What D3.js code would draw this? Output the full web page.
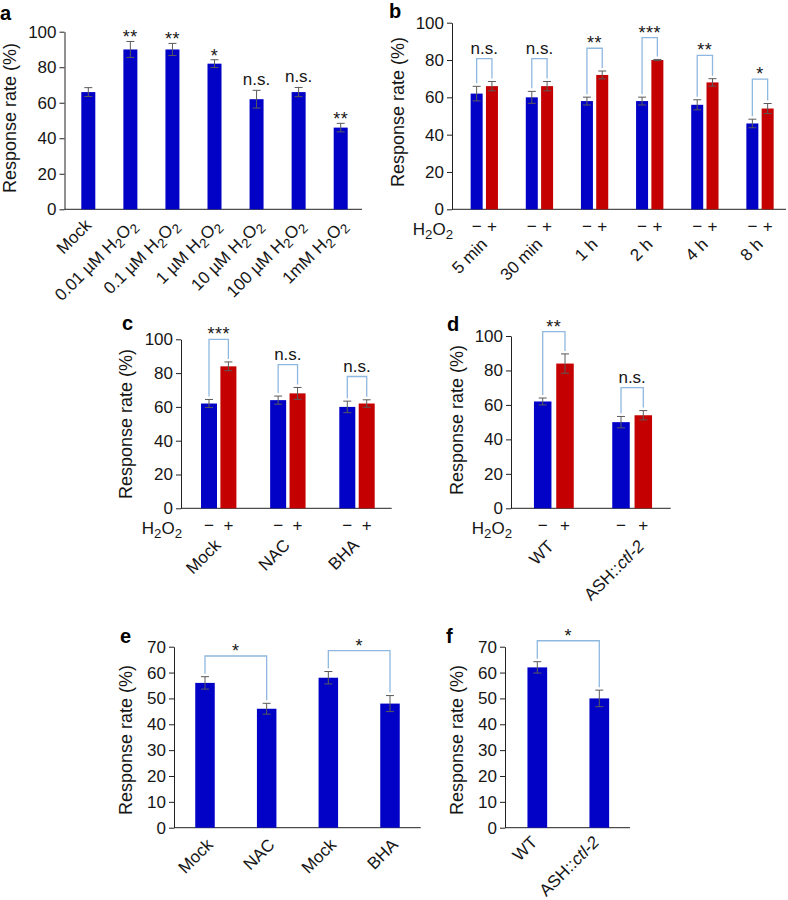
<!DOCTYPE html>
<html><head><meta charset="utf-8">
<script src="https://cdn.jsdelivr.net/npm/d3@7"></script>
<style>
body{margin:0;background:#fff;}
svg{display:block;font-family:"Liberation Sans",Arial,Helvetica,sans-serif;}
</style></head><body>
<svg id="chart" width="788" height="900"></svg>
<script>
// ---------- DATA ----------
// Panel a
const aCategories = ["Mock", "0.01 µM H2O2", "0.1 µM H2O2", "1 µM H2O2", "10 µM H2O2", "100 µM H2O2", "1mM H2O2"];
const aValues = [66, 90, 90, 82, 62, 66, 46];
const aErrors = [2.5, 4.5, 3.4, 2.2, 5, 2.6, 2.4];
const aSig = ["", "**", "**", "*", "n.s.", "n.s.", "**"];
const aTicks = [0, 20, 40, 60, 80, 100];

// Panel b
const bCategories = ["5 min", "30 min", "1 h", "2 h", "4 h", "8 h"];
const bControl = [62, 60, 58, 58, 56, 46];
const bControlErr = [3.9, 3.2, 2.1, 2.1, 2.7, 2.3];
const bTreated = [66, 66, 72, 80, 68, 54];
const bTreatedErr = [2.5, 2.5, 2.1, 0.3, 2.0, 2.7];
const bSig = ["n.s.", "n.s.", "**", "***", "**", "*"];
const bBracket = [80.7, 80.7, 86.3, 92, 82.5, 69.8];
const bTicks = [0, 20, 40, 60, 80, 100];

// Panel c
const cCategories = ["Mock", "NAC", "BHA"];
const cControl = [62, 64, 60];
const cControlErr = [2.4, 2.4, 3.4];
const cTreated = [84, 68, 62];
const cTreatedErr = [2.6, 3.5, 2.2];
const cSig = ["***", "n.s.", "n.s."];
const cBracket = [100, 85, 78];
const cTicks = [0, 20, 40, 60, 80, 100];

// Panel d
const dCategories = ["WT", "ASH::ctl-2"];
const dControl = [62, 50];
const dControlErr = [2, 3.3];
const dTreated = [84, 54];
const dTreatedErr = [5.6, 2.7];
const dSig = ["**", "n.s."];
const dBracket = [102.5, 70];
const dTicks = [0, 20, 40, 60, 80, 100];

// Panel e
const eCategories = ["Mock", "NAC", "Mock", "BHA"];
const eValues = [56, 46, 58, 48];
const eErrors = [2.4, 2.1, 2.4, 3.1];
const ePairs = [[0, 1], [2, 3]];
const eSig = ["*", "*"];
const eBracket = [66.4, 68.5];
const eTicks = [0, 10, 20, 30, 40, 50, 60, 70];

// Panel f
const fCategories = ["WT", "ASH::ctl-2"];
const fValues = [62, 50];
const fErrors = [2.2, 3.2];
const fPairs = [[0, 1]];
const fSig = ["*"];
const fBracket = [72.3];
const fTicks = [0, 10, 20, 30, 40, 50, 60, 70];

const treatSigns = ["−", "+"];

// ---------- STYLE ----------
const BLUE = "#0202c6", RED = "#c40000", ERR = "#5a5a5a", BRK = "#8fb8e0", INK = "#161616";
const FS = 17, TITLE_FS = 18, STAR_FS = 18;
const svg = d3.select("#chart");

function segments(s) {
  let m;
  if ((m = s.match(/^(.*)H2O2(.*)$/))) {
    const out = [];
    if (m[1]) out.push({t: m[1]});
    out.push({t: "H"}, {t: "2", sub: true}, {t: "O"}, {t: "2", sub: true});
    if (m[2]) out.push({t: m[2]});
    return out;
  }
  if ((m = s.match(/^(.*::)(.*)$/))) return [{t: m[1]}, {t: m[2], it: true}];
  return [{t: s}];
}
function richText(g, s, size) {
  const t = g.append("text").attr("font-size", size).attr("fill", INK);
  let shift = 0;
  segments(s).forEach(seg => {
    const target = seg.sub ? size * 0.25 : 0;
    const ts = t.append("tspan").text(seg.t).attr("dy", target - shift);
    shift = target;
    if (seg.sub) ts.attr("font-size", size * 0.78);
    if (seg.it) ts.attr("font-style", "italic");
  });
  return t;
}

function frame(cfg) {
  const g = svg.append("g");
  const y = d3.scaleLinear().domain([0, cfg.yMax]).range([cfg.y0, cfg.yTop]);
  const ax = g.append("g").attr("transform", `translate(${cfg.xAxis},0)`)
    .call(d3.axisLeft(y).tickValues(cfg.ticks).tickSize(5).tickPadding(3).tickSizeOuter(0));
  ax.attr("font-family", null).attr("font-size", null);
  ax.selectAll("text").attr("font-size", FS).attr("fill", INK);
  ax.selectAll("line").attr("stroke", "#222");
  ax.select(".domain").attr("stroke", "#222");
  g.append("line").attr("x1", cfg.xAxis).attr("x2", cfg.xEnd)
    .attr("y1", y(0)).attr("y2", y(0)).attr("stroke", "#222").attr("stroke-width", 1);
  g.append("text").attr("transform", `translate(${cfg.titleX},${cfg.titleY}) rotate(-90)`)
    .attr("text-anchor", "middle").attr("font-size", TITLE_FS).attr("fill", INK).text("Response rate (%)");
  g.append("text").attr("x", cfg.letterX).attr("y", cfg.letterY).attr("font-weight", "bold")
    .attr("font-size", 20).attr("fill", "#000").text(cfg.letter);
  return {g, y};
}

function bar(g, y, cx, w, v, e, color) {
  g.append("rect").attr("x", cx - w / 2).attr("width", w)
    .attr("y", y(v)).attr("height", y(0) - y(v)).attr("fill", color);
  const cap = 8;
  g.append("line").attr("x1", cx).attr("x2", cx).attr("y1", y(v - e)).attr("y2", y(v + e))
    .attr("stroke", ERR).attr("stroke-width", 1);
  [v - e, v + e].forEach(t => g.append("line").attr("x1", cx - cap / 2).attr("x2", cx + cap / 2)
    .attr("y1", y(t)).attr("y2", y(t)).attr("stroke", ERR).attr("stroke-width", 1));
}

function sigText(g, x, yBase, s, starDy, nsDy) {
  const star = s.indexOf("*") >= 0;
  g.append("text").attr("x", x).attr("y", yBase + (star ? starDy : nsDy))
    .attr("text-anchor", "middle").attr("font-size", star ? STAR_FS : FS)
    .attr("letter-spacing", star ? 0.5 : 0).attr("fill", INK).text(s);
}

function bracket(g, y, x1, top1, x2, top2, level, s) {
  const yt = y(level);
  g.append("path").attr("d", `M${x1},${y(top1) - 3}V${yt}H${x2}V${y(top2) - 3}`)
    .attr("fill", "none").attr("stroke", BRK).attr("stroke-width", 1.3);
  sigText(g, (x1 + x2) / 2, yt, s, 1, -4.5);
}

function catLabel(g, x, yy, s) {
  const lg = g.append("g").attr("transform", `translate(${x},${yy}) rotate(-45)`);
  richText(lg, s, FS).attr("text-anchor", "end");
}

function singleScale(n, first, last, barW) {
  const step = (last - first) / (n - 1);
  const p = 1 - barW / step;
  return d3.scaleBand().domain(d3.range(n)).range([first - step / 2, last + step / 2])
    .paddingInner(p).paddingOuter(p / 2);
}

// ---------- Panel a ----------
(function () {
  const cfg = {xAxis: 64.5, xEnd: 362, y0: 209.3, yTop: 31.7, yMax: 100, ticks: aTicks,
    titleX: 16, titleY: 118, letter: "a", letterX: 0, letterY: 20};
  const {g, y} = frame(cfg);
  const x = singleScale(aCategories.length, 88.3, 340.7, 14);
  aValues.forEach((v, i) => {
    const cx = x(i) + x.bandwidth() / 2;
    bar(g, y, cx, x.bandwidth(), v, aErrors[i], BLUE);
    if (aSig[i]) sigText(g, cx, y(v + aErrors[i]), aSig[i], 2, -5);
    catLabel(g, cx + (i === 0 ? 4 : 7), y(0) + 17, aCategories[i]);
  });
})();

// ---------- grouped panels ----------
function grouped(cfg, cats, ctl, ctlE, trt, trtE, sig, brk) {
  const {g, y} = frame(cfg);
  const n = cats.length;
  const step = (cfg.last - cfg.first) / (n - 1);
  const gw = 2 * cfg.sep;
  const xg = d3.scaleBand().domain(d3.range(n)).range([cfg.first - step / 2, cfg.last + step / 2])
    .paddingInner(1 - gw / step).paddingOuter((1 - gw / step) / 2);
  const pi = 1 - cfg.barW / cfg.sep;
  const xi = d3.scaleBand().domain([0, 1]).range([0, gw]).paddingInner(pi).paddingOuter(pi / 2);
  richText(g.append("g").attr("transform", `translate(${cfg.xAxis + 1},${y(0) + cfg.rowDy + 3})`), "H2O2", FS)
    .attr("text-anchor", "end");
  cats.forEach((c, i) => {
    const c0 = xg(i) + xi(0) + xi.bandwidth() / 2;
    const c1 = xg(i) + xi(1) + xi.bandwidth() / 2;
    bar(g, y, c0, xi.bandwidth(), ctl[i], ctlE[i], BLUE);
    bar(g, y, c1, xi.bandwidth(), trt[i], trtE[i], RED);
    bracket(g, y, c0, ctl[i] + ctlE[i], c1, trt[i] + trtE[i], brk[i], sig[i]);
    [c0, c1].forEach((cx, k) => g.append("text").attr("x", cx).attr("y", y(0) + cfg.rowDy)
      .attr("text-anchor", "middle").attr("font-size", FS).attr("fill", INK).text(treatSigns[k]));
    catLabel(g, xg(i) + gw / 2 + cfg.labelDx[i], y(0) + cfg.labelDy, c);
  });
}

grouped({xAxis: 452, xEnd: 786, y0: 209.3, yTop: 22.7, yMax: 100, ticks: bTicks,
  titleX: 404, titleY: 112, letter: "b", letterX: 389, letterY: 18,
  first: 484.3, last: 760, sep: 15.3, barW: 12, rowDy: 22.5, labelDx: [4, 4, 4, 4, 4, 4], labelDy: 36},
  bCategories, bControl, bControlErr, bTreated, bTreatedErr, bSig, bBracket);

grouped({xAxis: 181, xEnd: 391.7, y0: 508.3, yTop: 339.3, yMax: 100, ticks: cTicks,
  titleX: 132, titleY: 424, letter: "c", letterX: 122, letterY: 330,
  first: 218.7, last: 357, sep: 19.4, barW: 16, rowDy: 22.5, labelDx: [3, 3, 3], labelDy: 38},
  cCategories, cControl, cControlErr, cTreated, cTreatedErr, cSig, cBracket);

grouped({xAxis: 511, xEnd: 670.7, y0: 508.3, yTop: 336, yMax: 100, ticks: dTicks,
  titleX: 463, titleY: 420, letter: "d", letterX: 447, letterY: 331,
  first: 553.85, last: 632.15, sep: 22.3, barW: 17.5, rowDy: 22.5, labelDx: [1, 13], labelDy: 39},
  dCategories, dControl, dControlErr, dTreated, dTreatedErr, dSig, dBracket);

// ---------- single panels with brackets ----------
function single(cfg, cats, vals, errs, pairs, sig, brk) {
  const {g, y} = frame(cfg);
  const x = singleScale(cats.length, cfg.first, cfg.last, cfg.barW);
  const cx = i => x(i) + x.bandwidth() / 2;
  vals.forEach((v, i) => {
    bar(g, y, cx(i), x.bandwidth(), v, errs[i], BLUE);
    catLabel(g, cx(i) + cfg.labelDx, y(0) + cfg.labelDy, cats[i]);
  });
  pairs.forEach(([a, b], k) => bracket(g, y, cx(a), vals[a] + errs[a], cx(b), vals[b] + errs[b], brk[k], sig[k]));
}

single({xAxis: 174, xEnd: 420.7, y0: 827.7, yTop: 646.7, yMax: 70, ticks: eTicks,
  titleX: 132, titleY: 740, letter: "e", letterX: 120, letterY: 643,
  first: 205, last: 390, barW: 19.5, labelDx: 9, labelDy: 18},
  eCategories, eValues, eErrors, ePairs, eSig, eBracket);

single({xAxis: 505, xEnd: 630, y0: 827.7, yTop: 646.7, yMax: 70, ticks: fTicks,
  titleX: 463, titleY: 740, letter: "f", letterX: 446, letterY: 643,
  first: 537.3, last: 599.3, barW: 19.7, labelDx: 1, labelDy: 15.5},
  fCategories, fValues, fErrors, fPairs, fSig, fBracket);
</script>
</body></html>
